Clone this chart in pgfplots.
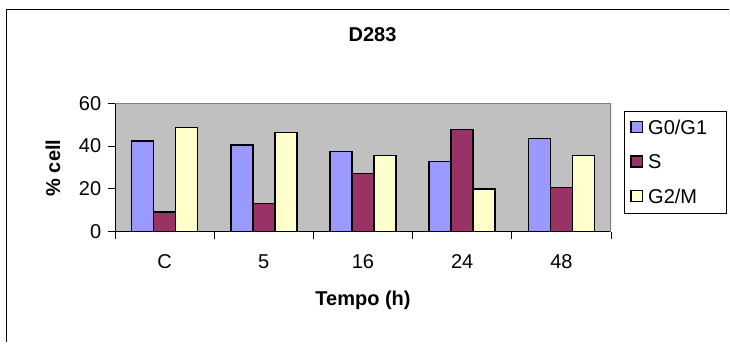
\documentclass[border=0pt]{standalone}
\usepackage{pgfplots}
\pgfplotsset{compat=1.18}
\usepackage{fontspec}
\setmainfont{Liberation Sans}
\definecolor{cA}{HTML}{9999FF}
\definecolor{cB}{HTML}{993366}
\definecolor{cC}{HTML}{FFFFCC}
\definecolor{bg}{HTML}{C0C0C0}
\definecolor{bd}{HTML}{808080}
\newcommand{\lsq}[1]{\tikz[baseline=0pt]\draw[fill=#1, line width=1.5pt] (0.75pt,1.5pt) rectangle (12pt,12.75pt);\hspace*{5pt}}
\begin{document}
\fontsize{20}{24}\selectfont
\begin{tikzpicture}[x=1pt,y=1pt]
\draw[line width=1pt] (6.5,-342) -- (6.5,-9.5) -- (729,-9.5);
\node[font=\fontsize{20}{24}\selectfont\bfseries] at (372.5,-35) {D283};
\begin{axis}[
 at={(115pt,-231.7pt)}, anchor=south west,
 width=496pt, height=128.4pt, scale only axis,
 xmin=-0.5, xmax=4.5, ymin=0, ymax=60,
 ytick={0,20,40,60},
 xtick={-0.5,0.5,1.5,2.5,3.5,4.5}, xticklabels={},
 extra x ticks={0,1,2,3,4}, extra x tick labels={C,5,16,24,48},
 extra x tick style={major tick length=0pt},
 xticklabel style={anchor=base, yshift=-37pt},
 axis x line*=bottom, axis y line*=left,
 axis line style={-, black, line width=1pt},
 tick align=outside, major tick length=7pt,
 tick style={black, line width=1pt},
 minor tick num=0,
 axis background/.style={fill=bg},
 ticklabel style={font=\fontsize{20}{24}\selectfont},
 /pgf/number format/assume math mode=true,
 yticklabel style={anchor=east},
 xlabel={Tempo (h)}, ylabel={\% cell},
 label style={font=\fontsize{20}{24}\selectfont\bfseries},
 xlabel style={at={(axis description cs:0.5,-0.532)}, anchor=center},
 ylabel style={at={(axis description cs:-0.125,0.496)}, anchor=center},
 ybar=0pt, bar width=22pt,
 legend style={at={(1.0262,0.94)}, anchor=north west, draw=black, line width=1pt,
   font=\fontsize{20}{24}\selectfont, fill=white,
   nodes={inner sep=0pt, text height=14pt, text depth=2pt},
   row sep=18.5pt, column sep=0pt, inner xsep=6pt, inner ysep=8.5pt},
 legend cell align=left,
 legend image code/.code={},
]
\addplot[fill=cA, draw=black, line width=1.5pt] coordinates {(0,42.5) (1,40.5) (2,37.4) (3,32.7) (4,43.6)};
\addlegendentry{\lsq{cA}G0/G1\hspace*{13pt}}
\addplot[fill=cB, draw=black, line width=1.5pt] coordinates {(0,9.2) (1,13.2) (2,27.3) (3,47.8) (4,20.7)};
\addlegendentry{\lsq{cB}S}
\addplot[fill=cC, draw=black, line width=1.5pt] coordinates {(0,48.6) (1,46.4) (2,35.5) (3,19.9) (4,35.5)};
\addlegendentry{\lsq{cC}G2/M}
\draw[bd, line width=1.5pt] (rel axis cs:0,1) -- (rel axis cs:1,1) -- (rel axis cs:1,0);
\end{axis}
\pgfresetboundingbox
\path[use as bounding box] (0,0) rectangle (730,-343);
\end{tikzpicture}
\end{document}
